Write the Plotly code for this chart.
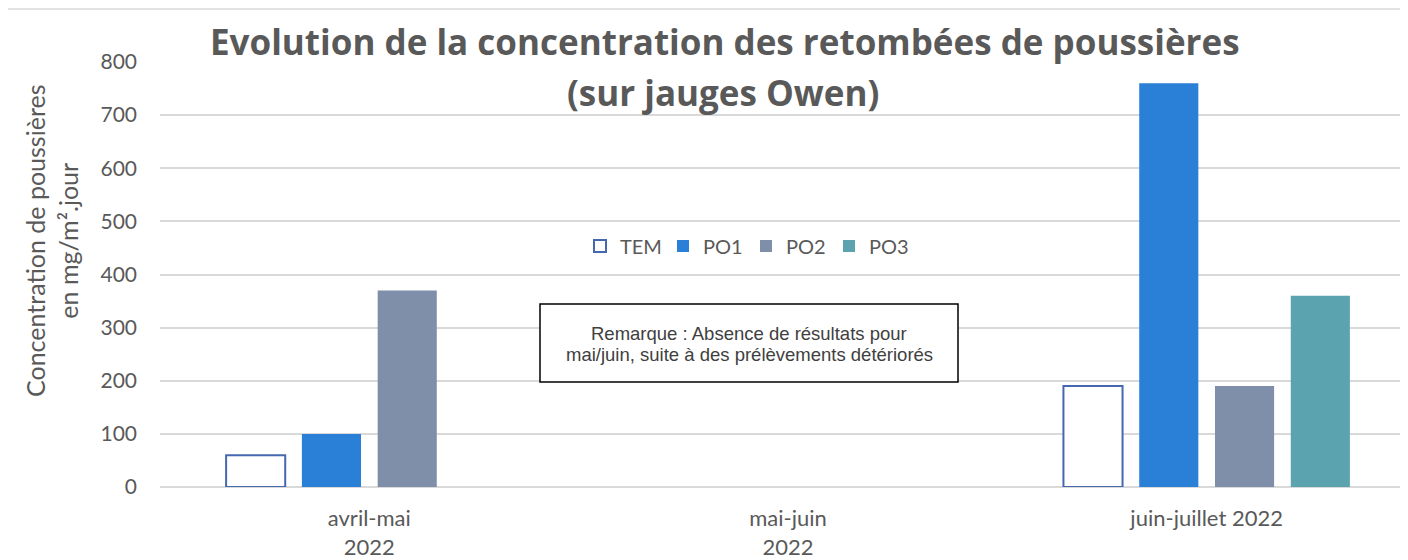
import plotly.graph_objects as go

categories = ["avril-mai<br>2022", "mai-juin<br>2022", "juin-juillet 2022"]
series_names = ["TEM", "PO1", "PO2", "PO3"]
tem = [60, None, 190]
po1 = [100, None, 760]
po2 = [370, None, 190]
po3 = [None, None, 360]
y_ticks = [0, 100, 200, 300, 400, 500, 600, 700, 800]

values = [tem, po1, po2, po3]
fills = ["#FFFFFF", "#2A7FD6", "#7F8FA9", "#5BA3AE"]
lines = ["#4668B0", "#2A7FD6", "#7F8FA9", "#5BA3AE"]

FONT = "Lato"
GRAY = "#595959"

# page offset of the plot div (browser body margin)
OFF = 8
W, H = 1408, 560
L, R, T, B = 152, 0, 54, 81
PW, PH = W - L - R, H - T - B


def px(xp):
    return (xp - OFF - L) / PW


def py(yp):
    return (H - B - (yp - OFF)) / PH


fig = go.Figure()
for name, vals, fc, lc in zip(series_names, values, fills, lines):
    fig.add_trace(go.Bar(
        x=categories, y=vals, name=name,
        marker=dict(color=fc, line=dict(color=lc, width=2 if name == "TEM" else 0)),
    ))

fig.update_layout(
    width=W, height=H,
    margin=dict(l=L, r=R, t=T, b=B, autoexpand=False),
    paper_bgcolor="white", plot_bgcolor="white",
    barmode="group", bargap=0.276, bargroupgap=0.22,
    font=dict(family=FONT, color=GRAY, size=20),
    xaxis=dict(
        type="category", categoryorder="array", categoryarray=categories,
        range=[-0.5, 2.5], showgrid=False, showline=False, ticks="",
        ticklabelstandoff=16,
        tickfont=dict(size=22, color=GRAY), fixedrange=True,
    ),
    yaxis=dict(
        range=[0, 800], tickvals=y_ticks, showgrid=True, gridcolor="#D9D9D9", gridwidth=1.5,
        zeroline=True, zerolinecolor="#D9D9D9", zerolinewidth=1.5,
        ticks="", ticklabelstandoff=22, tickfont=dict(size=21, color=GRAY),
        fixedrange=True,
    ),
    legend=dict(
        orientation="h", x=px(580), xanchor="left",
        y=py(246), yanchor="middle",
        font=dict(size=20, color=GRAY), bgcolor="rgba(0,0,0,0)",
        itemwidth=30, traceorder="normal",
        entrywidth=38, entrywidthmode="pixels",
    ),
    showlegend=True,
)

# title (two lines)
fig.add_annotation(xref="paper", yref="paper", x=px(725), y=py(41.5),
                   xanchor="center", yanchor="middle", showarrow=False,
                   text="<b>Evolution de la concentration des retombées de poussières</b>",
                   font=dict(family="Open Sans", size=35, color=GRAY))
fig.add_annotation(xref="paper", yref="paper", x=px(723), y=py(92.5),
                   xanchor="center", yanchor="middle", showarrow=False,
                   text="<b>(sur jauges Owen)</b>",
                   font=dict(family="Open Sans", size=35, color=GRAY))

# y-axis title
fig.add_annotation(xref="paper", yref="paper", x=px(51), y=py(241),
                   xanchor="center", yanchor="middle", showarrow=False, textangle=-90,
                   text="Concentration de poussières<br>en mg/m².jour",
                   font=dict(family=FONT, size=25, color=GRAY))

# remark box
fig.add_shape(type="rect", xref="paper", yref="paper",
              x0=px(540), x1=px(958), y0=py(382), y1=py(304),
              line=dict(color="#000000", width=1.5), fillcolor="white", layer="above")
fig.add_annotation(xref="paper", yref="paper", x=px(749), y=py(333),
                   text="Remarque : Absence de résultats pour",
                   showarrow=False, xanchor="center", yanchor="middle",
                   font=dict(family="Liberation Sans", size=18.5, color="#404040"))
fig.add_annotation(xref="paper", yref="paper", x=px(749), y=py(354),
                   text="mai/juin, suite à des prélèvements détériorés",
                   showarrow=False, xanchor="center", yanchor="middle",
                   font=dict(family="Liberation Sans", size=18.5, color="#404040"))

# chart border (top edge visible)
fig.add_shape(type="rect", xref="paper", yref="paper",
              x0=px(7), x1=px(1430), y0=py(580), y1=py(9),
              line=dict(color="#D9D9D9", width=1.5), layer="below")

fig.write_html("out.html")
